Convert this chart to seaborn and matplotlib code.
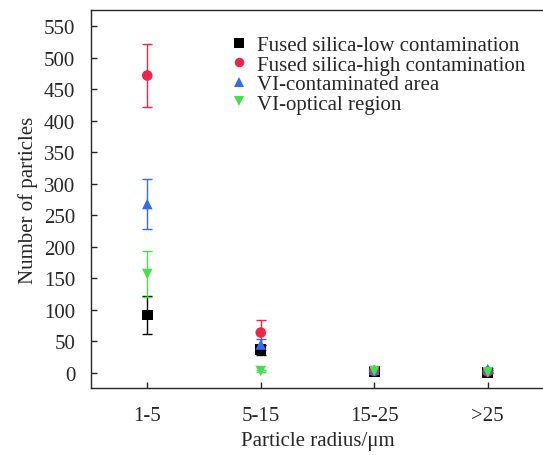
import numpy as np
import pandas as pd
import matplotlib
matplotlib.use("Agg")
import matplotlib.pyplot as plt
import seaborn as sns

# particle radius bins
categories = ["1-5", "5-15", "15-25", ">25"]

series_names = [
    "Fused silica-low contamination",
    "Fused silica-high contamination",
    "VI-contaminated area",
    "VI-optical region",
]

low_vals = [92, 37, 2, 1]
low_err = [30, 8, 2, 1]
high_vals = [472, 64, 3, 2]
high_err = [50, 20, 2, 2]
contam_vals = [268, 45, 5, 6]
contam_err = [40, 8, 3, 2]
optical_vals = [157, 3, 3, 1]
optical_err = [37, 1, 2, 1]

colors = ["#000000", "#f0234b", "#2f6cf4", "#47e04a"]
markers = ["s", "o", "^", "v"]

sns.set_style("ticks")
plt.rcParams["font.family"] = ["Liberation Serif", "DejaVu Serif"]

df = pd.DataFrame({
    "radius": categories * 4,
    "count": low_vals + high_vals + contam_vals + optical_vals,
    "err": low_err + high_err + contam_err + optical_err,
    "sample": [n for n in series_names for _ in categories],
})

fig = plt.figure(figsize=(5.43, 4.56), dpi=100)
ax = fig.add_axes([90.5 / 543, 67 / 456, 454 / 543, 378 / 456])

xpos = np.arange(len(categories))
for name, c in zip(series_names, colors):
    sub = df[df["sample"] == name]
    ax.errorbar(xpos, sub["count"], yerr=sub["err"], fmt="none", ecolor=c,
                elinewidth=1.0, capsize=3.5, capthick=1.0, zorder=2)

sns.scatterplot(data=df, x="radius", y="count", hue="sample", style="sample",
                palette=dict(zip(series_names, colors)),
                markers=dict(zip(series_names, markers)),
                s=58, edgecolor="none", linewidth=0, ax=ax, zorder=3)

ax.set_xlim(-0.5, 3.5)
ax.set_ylim(-24, 576)
ax.set_yticks(np.arange(0, 551, 50))
ax.set_xticks(xpos)
ax.set_xticklabels(categories)
ax.tick_params(direction="in", length=4, width=1, labelsize=15)
ax.tick_params(axis="y", pad=11)
ax.tick_params(axis="x", pad=13)
for s in ax.spines.values():
    s.set_linewidth(1.0)

ax.set_xlabel("Particle radius/μm", fontsize=15, labelpad=4)
ax.set_ylabel("Number of particles", fontsize=15, labelpad=4)

leg = ax.legend(loc="upper left", bbox_to_anchor=(0.286, 0.955), frameon=False,
                fontsize=15, handletextpad=0.35, labelspacing=0.0,
                handlelength=1.0, borderaxespad=0.0, markerscale=0.9)

fig.savefig("out.png", dpi=100)
